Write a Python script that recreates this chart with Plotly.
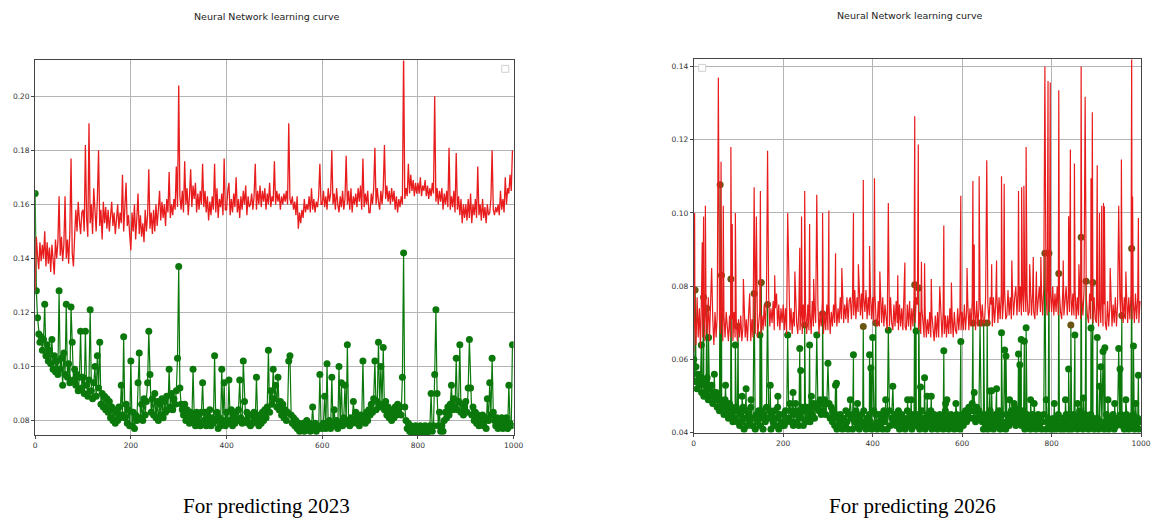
import plotly.graph_objects as go

# ---------------- data ----------------
EPOCHS = [i * 2.5 for i in range(400)]

# Left panel (For predicting 2023) - one row per 50 epochs
LEFT_RED = [
    0.128, 0.148, 0.141, 0.136, 0.146, 0.139, 0.145, 0.140, 0.150, 0.137, 0.146, 0.138, 0.144, 0.135, 0.145, 0.139, 0.134, 0.147, 0.140, 0.146,
    0.163, 0.141, 0.148, 0.139, 0.145, 0.163, 0.140, 0.147, 0.138, 0.150, 0.177, 0.142, 0.137, 0.148, 0.158, 0.150, 0.161, 0.154, 0.149, 0.157,
    0.158, 0.150, 0.182, 0.155, 0.148, 0.190, 0.153, 0.160, 0.149, 0.166, 0.156, 0.150, 0.162, 0.180, 0.152, 0.158, 0.147, 0.161, 0.153, 0.159,
    0.151, 0.158, 0.150, 0.156, 0.161, 0.152, 0.157, 0.149, 0.155, 0.160, 0.151, 0.157, 0.153, 0.171, 0.150, 0.158, 0.168, 0.152, 0.156, 0.149,
    0.143, 0.157, 0.150, 0.160, 0.147, 0.155, 0.164, 0.149, 0.156, 0.148, 0.153, 0.146, 0.158, 0.150, 0.156, 0.173, 0.151, 0.157, 0.149, 0.158,
    0.150, 0.160, 0.152, 0.158, 0.165, 0.154, 0.161, 0.155, 0.160, 0.152, 0.162, 0.157, 0.172, 0.155, 0.160, 0.156, 0.162, 0.158, 0.174, 0.159,
    0.204, 0.163, 0.158, 0.165, 0.157, 0.176, 0.160, 0.166, 0.156, 0.163, 0.173, 0.159, 0.167, 0.162, 0.168, 0.157, 0.164, 0.158, 0.165, 0.160,
    0.175, 0.159, 0.165, 0.157, 0.163, 0.154, 0.161, 0.156, 0.163, 0.158, 0.175, 0.157, 0.166, 0.155, 0.162, 0.159, 0.164, 0.156, 0.177, 0.158,
    0.158, 0.165, 0.168, 0.156, 0.162, 0.157, 0.164, 0.159, 0.170, 0.157, 0.162, 0.155, 0.163, 0.158, 0.165, 0.160, 0.167, 0.156, 0.163, 0.159,
    0.160, 0.164, 0.158, 0.163, 0.175, 0.158, 0.165, 0.160, 0.167, 0.159, 0.165, 0.161, 0.166, 0.158, 0.164, 0.160, 0.168, 0.159, 0.163, 0.161,
    0.176, 0.160, 0.165, 0.161, 0.164, 0.158, 0.163, 0.160, 0.164, 0.161, 0.165, 0.160, 0.190, 0.162, 0.160, 0.163, 0.158, 0.161, 0.156, 0.163,
    0.151, 0.157, 0.153, 0.158, 0.155, 0.162, 0.157, 0.160, 0.158, 0.163, 0.157, 0.166, 0.158, 0.162, 0.157, 0.161, 0.159, 0.163, 0.175, 0.160,
    0.160, 0.165, 0.159, 0.163, 0.158, 0.166, 0.161, 0.164, 0.180, 0.160, 0.164, 0.158, 0.166, 0.160, 0.157, 0.163, 0.159, 0.165, 0.158, 0.162,
    0.178, 0.160, 0.165, 0.158, 0.166, 0.157, 0.163, 0.160, 0.164, 0.159, 0.166, 0.161, 0.167, 0.158, 0.177, 0.159, 0.164, 0.160, 0.165, 0.157,
    0.157, 0.164, 0.160, 0.166, 0.181, 0.160, 0.166, 0.161, 0.158, 0.165, 0.160, 0.166, 0.182, 0.162, 0.167, 0.161, 0.165, 0.160, 0.166, 0.161,
    0.165, 0.158, 0.163, 0.157, 0.162, 0.159, 0.163, 0.160, 0.216, 0.162, 0.166, 0.163, 0.175, 0.164, 0.171, 0.165, 0.169, 0.163, 0.168, 0.164,
    0.168, 0.164, 0.170, 0.163, 0.167, 0.165, 0.169, 0.163, 0.167, 0.162, 0.166, 0.163, 0.168, 0.164, 0.200, 0.161, 0.166, 0.160, 0.165, 0.161,
    0.166, 0.158, 0.164, 0.160, 0.165, 0.159, 0.181, 0.158, 0.163, 0.159, 0.165, 0.157, 0.179, 0.158, 0.163, 0.156, 0.162, 0.153, 0.160, 0.155,
    0.160, 0.154, 0.162, 0.155, 0.164, 0.153, 0.160, 0.156, 0.162, 0.155, 0.174, 0.156, 0.160, 0.154, 0.162, 0.155, 0.159, 0.153, 0.160, 0.156,
    0.157, 0.162, 0.180, 0.158, 0.156, 0.159, 0.157, 0.160, 0.156, 0.165, 0.158, 0.162, 0.157, 0.170, 0.160, 0.166, 0.164, 0.171, 0.165, 0.180,
]
LEFT_GREEN = [
    0.164, 0.128, 0.118, 0.112, 0.109, 0.111, 0.106, 0.110, 0.123, 0.104, 0.108, 0.102, 0.106, 0.101, 0.110, 0.099, 0.104, 0.098, 0.102, 0.097,
    0.128, 0.099, 0.103, 0.093, 0.105, 0.097, 0.123, 0.096, 0.101, 0.094, 0.122, 0.109, 0.095, 0.099, 0.093, 0.097, 0.091, 0.096, 0.113, 0.092,
    0.096, 0.090, 0.113, 0.093, 0.089, 0.095, 0.121, 0.091, 0.088, 0.094, 0.100, 0.089, 0.104, 0.092, 0.109, 0.086, 0.090, 0.085, 0.089, 0.084,
    0.088, 0.083, 0.087, 0.081, 0.085, 0.080, 0.084, 0.079, 0.083, 0.080, 0.085, 0.081, 0.093, 0.082, 0.111, 0.081, 0.086, 0.079, 0.084, 0.078,
    0.102, 0.078, 0.083, 0.077, 0.082, 0.080, 0.094, 0.105, 0.081, 0.086, 0.080, 0.088, 0.082, 0.087, 0.094, 0.113, 0.097, 0.083, 0.088, 0.082,
    0.090, 0.081, 0.087, 0.080, 0.086, 0.082, 0.088, 0.081, 0.087, 0.083, 0.089, 0.084, 0.099, 0.085, 0.090, 0.084, 0.088, 0.086, 0.091, 0.103,
    0.137, 0.092, 0.086, 0.084, 0.082, 0.086, 0.080, 0.084, 0.081, 0.079, 0.083, 0.080, 0.099, 0.081, 0.078, 0.083, 0.079, 0.082, 0.078, 0.083,
    0.094, 0.080, 0.083, 0.078, 0.082, 0.079, 0.084, 0.078, 0.081, 0.079, 0.104, 0.080, 0.083, 0.077, 0.081, 0.078, 0.099, 0.080, 0.094, 0.078,
    0.083, 0.079, 0.095, 0.080, 0.084, 0.078, 0.082, 0.079, 0.083, 0.080, 0.084, 0.095, 0.081, 0.079, 0.102, 0.087, 0.080, 0.083, 0.079, 0.082,
    0.078, 0.082, 0.079, 0.083, 0.080, 0.096, 0.081, 0.078, 0.082, 0.079, 0.083, 0.080, 0.084, 0.081, 0.085, 0.106, 0.083, 0.091, 0.086, 0.099,
    0.088, 0.093, 0.085, 0.096, 0.084, 0.087, 0.082, 0.086, 0.081, 0.084, 0.080, 0.083, 0.102, 0.104, 0.082, 0.079, 0.081, 0.078, 0.080, 0.077,
    0.079, 0.076, 0.078, 0.077, 0.079, 0.076, 0.078, 0.080, 0.077, 0.079, 0.076, 0.078, 0.085, 0.077, 0.079, 0.076, 0.078, 0.077, 0.097, 0.078,
    0.077, 0.079, 0.089, 0.077, 0.101, 0.078, 0.080, 0.077, 0.096, 0.079, 0.084, 0.078, 0.080, 0.077, 0.100, 0.079, 0.094, 0.078, 0.081, 0.093,
    0.079, 0.108, 0.080, 0.078, 0.081, 0.079, 0.087, 0.080, 0.083, 0.079, 0.081, 0.078, 0.082, 0.080, 0.102, 0.081, 0.079, 0.083, 0.080, 0.084,
    0.082, 0.086, 0.083, 0.088, 0.102, 0.084, 0.087, 0.109, 0.085, 0.100, 0.086, 0.107, 0.084, 0.087, 0.082, 0.085, 0.081, 0.084, 0.080, 0.083,
    0.081, 0.085, 0.082, 0.086, 0.083, 0.085, 0.082, 0.096, 0.142, 0.085, 0.080, 0.077, 0.079, 0.076, 0.078, 0.075, 0.077, 0.076, 0.078, 0.075,
    0.077, 0.076, 0.078, 0.075, 0.077, 0.076, 0.078, 0.075, 0.077, 0.076, 0.078, 0.090, 0.076, 0.078, 0.097, 0.121, 0.090, 0.078, 0.083, 0.076,
    0.078, 0.076, 0.080, 0.083, 0.081, 0.085, 0.082, 0.086, 0.093, 0.084, 0.088, 0.085, 0.103, 0.084, 0.087, 0.108, 0.083, 0.086, 0.082, 0.085,
    0.087, 0.083, 0.092, 0.110, 0.092, 0.082, 0.085, 0.080, 0.083, 0.079, 0.082, 0.078, 0.081, 0.079, 0.082, 0.078, 0.081, 0.077, 0.088, 0.080,
    0.094, 0.082, 0.103, 0.083, 0.080, 0.078, 0.081, 0.077, 0.080, 0.078, 0.081, 0.077, 0.080, 0.078, 0.081, 0.077, 0.093, 0.079, 0.078, 0.108,
]

# Right panel (For predicting 2026): baseline on the 2.5-epoch grid + isolated spikes
RIGHT_RED_BASE = [
    0.062, 0.072, 0.064, 0.077, 0.066, 0.074, 0.063, 0.079, 0.066, 0.075, 0.065, 0.073, 0.067, 0.077, 0.065, 0.074, 0.066, 0.071, 0.064, 0.073,
    0.066, 0.072, 0.065, 0.071, 0.067, 0.074, 0.065, 0.072, 0.066, 0.073, 0.068, 0.065, 0.072, 0.066, 0.071, 0.065, 0.073, 0.066, 0.071, 0.065,
    0.071, 0.066, 0.072, 0.065, 0.069, 0.073, 0.066, 0.071, 0.065, 0.072, 0.068, 0.065, 0.071, 0.066, 0.074, 0.067, 0.072, 0.066, 0.070, 0.073,
    0.067, 0.072, 0.068, 0.075, 0.069, 0.076, 0.070, 0.077, 0.069, 0.074, 0.070, 0.076, 0.068, 0.074, 0.078, 0.069, 0.075, 0.068, 0.074, 0.070,
    0.075, 0.068, 0.074, 0.067, 0.072, 0.076, 0.068, 0.074, 0.067, 0.073, 0.069, 0.076, 0.070, 0.067, 0.074, 0.068, 0.073, 0.067, 0.075, 0.069,
    0.073, 0.067, 0.075, 0.068, 0.073, 0.067, 0.076, 0.069, 0.074, 0.070, 0.068, 0.075, 0.067, 0.073, 0.069, 0.076, 0.067, 0.073, 0.068, 0.075,
    0.068, 0.075, 0.067, 0.073, 0.069, 0.075, 0.070, 0.076, 0.069, 0.074, 0.070, 0.077, 0.071, 0.076, 0.070, 0.075, 0.071, 0.077, 0.070, 0.076,
    0.077, 0.071, 0.078, 0.072, 0.079, 0.071, 0.077, 0.073, 0.080, 0.072, 0.078, 0.071, 0.077, 0.073, 0.079, 0.071, 0.077, 0.072, 0.078, 0.071,
    0.077, 0.070, 0.078, 0.071, 0.069, 0.076, 0.069, 0.075, 0.070, 0.077, 0.069, 0.075, 0.071, 0.068, 0.076, 0.069, 0.077, 0.070, 0.068, 0.075,
    0.069, 0.076, 0.070, 0.068, 0.075, 0.069, 0.074, 0.068, 0.076, 0.069, 0.068, 0.075, 0.069, 0.076, 0.068, 0.074, 0.069, 0.077, 0.070, 0.077,
    0.075, 0.068, 0.073, 0.067, 0.074, 0.068, 0.066, 0.072, 0.066, 0.071, 0.067, 0.073, 0.066, 0.072, 0.067, 0.065, 0.072, 0.066, 0.073, 0.066,
    0.067, 0.072, 0.066, 0.073, 0.067, 0.072, 0.066, 0.072, 0.067, 0.074, 0.067, 0.072, 0.066, 0.073, 0.068, 0.067, 0.074, 0.068, 0.073, 0.068,
    0.073, 0.068, 0.075, 0.068, 0.073, 0.076, 0.068, 0.074, 0.069, 0.076, 0.069, 0.074, 0.068, 0.076, 0.069, 0.074, 0.077, 0.069, 0.075, 0.070,
    0.070, 0.077, 0.069, 0.075, 0.070, 0.077, 0.075, 0.069, 0.077, 0.070, 0.075, 0.078, 0.070, 0.077, 0.071, 0.078, 0.071, 0.076, 0.079, 0.071,
    0.072, 0.079, 0.072, 0.077, 0.071, 0.079, 0.072, 0.077, 0.080, 0.072, 0.079, 0.073, 0.080, 0.072, 0.078, 0.073, 0.080, 0.073, 0.078, 0.072,
    0.073, 0.080, 0.072, 0.078, 0.073, 0.071, 0.079, 0.072, 0.077, 0.080, 0.073, 0.078, 0.072, 0.080, 0.073, 0.078, 0.072, 0.080, 0.073, 0.078,
    0.073, 0.080, 0.072, 0.078, 0.073, 0.080, 0.072, 0.078, 0.073, 0.071, 0.079, 0.072, 0.077, 0.080, 0.072, 0.078, 0.073, 0.080, 0.072, 0.078,
    0.072, 0.079, 0.071, 0.077, 0.072, 0.079, 0.071, 0.077, 0.072, 0.079, 0.071, 0.077, 0.072, 0.070, 0.078, 0.071, 0.076, 0.070, 0.077, 0.071,
    0.070, 0.076, 0.069, 0.075, 0.070, 0.077, 0.069, 0.075, 0.070, 0.068, 0.076, 0.069, 0.074, 0.077, 0.069, 0.075, 0.070, 0.077, 0.069, 0.075,
    0.070, 0.077, 0.071, 0.078, 0.070, 0.077, 0.071, 0.078, 0.070, 0.077, 0.071, 0.078, 0.071, 0.076, 0.070, 0.078, 0.071, 0.077, 0.070, 0.076,
]
RIGHT_RED_SPIKE_X = [
    2, 19, 22, 26, 40, 55, 61, 66, 83, 86, 93, 111, 125, 135, 140, 149, 165,
    181, 210, 226, 237, 241, 248, 259, 268, 275, 288, 302, 317, 331, 357,
    368, 379, 393, 404, 416, 435, 456, 472, 494, 502, 509, 516, 531, 550,
    559, 576, 597, 611, 624, 627, 638, 655, 666, 677, 688, 694, 711, 726,
    733, 738, 743, 751, 759, 766, 776, 785, 792, 797, 816, 826, 838, 842,
    851, 861, 866, 875, 888, 891, 902, 907, 912, 916, 918, 931, 950, 956,
    966, 979, 981, 994,
]
RIGHT_RED_SPIKE_Y = [
    0.100, 0.092, 0.099, 0.102, 0.085, 0.137, 0.114, 0.102, 0.118, 0.097, 0.100, 0.082, 0.078, 0.107, 0.099, 0.106, 0.117,
    0.083, 0.100, 0.084, 0.0905, 0.099, 0.106, 0.097, 0.082, 0.105, 0.100, 0.1007, 0.089, 0.085, 0.100,
    0.086, 0.109, 0.091, 0.1095, 0.084, 0.1027, 0.083, 0.0865, 0.1264, 0.1187, 0.0867, 0.0863, 0.082, 0.080,
    0.0966, 0.081, 0.1047, 0.085, 0.1087, 0.0914, 0.110, 0.1144, 0.086, 0.087, 0.110, 0.108, 0.087, 0.106,
    0.107, 0.1074, 0.118, 0.086, 0.088, 0.084, 0.088, 0.140, 0.136, 0.1356, 0.1335, 0.087, 0.0991, 0.1173,
    0.1135, 0.086, 0.140, 0.1317, 0.1095, 0.1275, 0.113, 0.100, 0.102, 0.1027, 0.1018, 0.085, 0.102, 0.1146,
    0.084, 0.143, 0.1045, 0.0986,
]
RIGHT_GREEN_BASE = [
    0.060, 0.054, 0.058, 0.052, 0.056, 0.053, 0.055, 0.051, 0.054, 0.050, 0.053, 0.051, 0.055, 0.049, 0.052, 0.050, 0.053, 0.048, 0.051, 0.049,
    0.051, 0.047, 0.050, 0.046, 0.049, 0.047, 0.048, 0.045, 0.049, 0.046, 0.047, 0.044, 0.048, 0.045, 0.047, 0.043, 0.046, 0.044, 0.047, 0.043,
    0.046, 0.042, 0.045, 0.043, 0.047, 0.041, 0.044, 0.046, 0.042, 0.045, 0.043, 0.047, 0.042, 0.044, 0.046, 0.041, 0.045, 0.043, 0.046, 0.042,
    0.044, 0.046, 0.041, 0.045, 0.043, 0.047, 0.042, 0.044, 0.046, 0.041, 0.045, 0.043, 0.046, 0.042, 0.044, 0.047, 0.041, 0.045, 0.043, 0.042,
    0.045, 0.042, 0.046, 0.043, 0.047, 0.044, 0.048, 0.043, 0.046, 0.042, 0.045, 0.048, 0.043, 0.046, 0.042, 0.045, 0.044, 0.047, 0.042, 0.046,
    0.043, 0.047, 0.044, 0.046, 0.043, 0.047, 0.045, 0.048, 0.044, 0.047, 0.045, 0.048, 0.046, 0.049, 0.045, 0.048, 0.046, 0.049, 0.045, 0.048,
    0.046, 0.048, 0.044, 0.047, 0.043, 0.046, 0.042, 0.045, 0.041, 0.044, 0.042, 0.045, 0.043, 0.041, 0.044, 0.042, 0.046, 0.043, 0.041, 0.045,
    0.042, 0.044, 0.041, 0.045, 0.043, 0.046, 0.042, 0.044, 0.041, 0.043, 0.045, 0.042, 0.046, 0.043, 0.041, 0.044, 0.042, 0.045, 0.043, 0.041,
    0.044, 0.046, 0.042, 0.045, 0.041, 0.043, 0.045, 0.042, 0.044, 0.041, 0.046, 0.043, 0.045, 0.041, 0.043, 0.046, 0.042, 0.044, 0.041, 0.043,
    0.045, 0.042, 0.044, 0.046, 0.041, 0.043, 0.045, 0.042, 0.044, 0.041, 0.043, 0.046, 0.042, 0.044, 0.045, 0.041, 0.043, 0.045, 0.042, 0.044,
    0.042, 0.045, 0.041, 0.043, 0.046, 0.042, 0.044, 0.041, 0.043, 0.045, 0.042, 0.044, 0.046, 0.041, 0.043, 0.045, 0.042, 0.044, 0.041, 0.043,
    0.045, 0.042, 0.044, 0.041, 0.043, 0.046, 0.042, 0.044, 0.041, 0.043, 0.045, 0.042, 0.044, 0.041, 0.043, 0.045, 0.042, 0.044, 0.041, 0.043,
    0.045, 0.042, 0.044, 0.046, 0.043, 0.045, 0.047, 0.044, 0.046, 0.048, 0.044, 0.046, 0.043, 0.047, 0.044, 0.046, 0.042, 0.045, 0.043, 0.041,
    0.044, 0.042, 0.045, 0.041, 0.043, 0.046, 0.042, 0.044, 0.041, 0.043, 0.045, 0.042, 0.044, 0.046, 0.041, 0.043, 0.045, 0.042, 0.044, 0.041,
    0.043, 0.045, 0.042, 0.044, 0.046, 0.043, 0.045, 0.047, 0.042, 0.044, 0.046, 0.043, 0.045, 0.042, 0.044, 0.046, 0.041, 0.043, 0.045, 0.042,
    0.044, 0.041, 0.043, 0.045, 0.042, 0.044, 0.041, 0.043, 0.045, 0.042, 0.044, 0.041, 0.043, 0.045, 0.042, 0.041, 0.043, 0.044, 0.042, 0.041,
    0.043, 0.041, 0.044, 0.042, 0.041, 0.043, 0.045, 0.042, 0.041, 0.044, 0.042, 0.041, 0.043, 0.045, 0.042, 0.041, 0.044, 0.042, 0.041, 0.043,
    0.045, 0.042, 0.044, 0.041, 0.043, 0.046, 0.042, 0.044, 0.041, 0.043, 0.045, 0.042, 0.044, 0.041, 0.043, 0.045, 0.042, 0.044, 0.041, 0.043,
    0.042, 0.044, 0.041, 0.043, 0.045, 0.042, 0.044, 0.041, 0.043, 0.045, 0.042, 0.041, 0.044, 0.042, 0.043, 0.045, 0.041, 0.043, 0.042, 0.044,
    0.041, 0.043, 0.045, 0.042, 0.044, 0.041, 0.043, 0.045, 0.042, 0.041, 0.044, 0.042, 0.043, 0.045, 0.041, 0.043, 0.042, 0.044, 0.041, 0.043,
]
RIGHT_GREEN_SPIKE_X = [
    3, 17, 22, 29, 33, 46, 59, 62, 71, 83, 93, 99, 108, 117, 128, 135, 148,
    151, 165, 171, 188, 210, 222, 237, 239, 248, 259, 263, 275, 288, 300,
    317, 319, 350, 357, 366, 379, 393, 396, 400, 407, 429, 435, 445, 478,
    486, 494, 497, 503, 507, 516, 522, 531, 559, 563, 566, 586, 597, 624,
    627, 640, 648, 656, 662, 666, 677, 688, 695, 698, 706, 716, 726, 729,
    732, 739, 743, 753, 761, 785, 788, 794, 806, 816, 831, 838, 843, 852,
    858, 866, 871, 877, 888, 892, 902, 907, 910, 915, 919, 926, 941, 950,
    953, 957, 966, 979, 983, 988, 994,
]
RIGHT_GREEN_SPIKE_Y = [
    0.079, 0.064, 0.077, 0.074, 0.066, 0.056, 0.1077, 0.083, 0.053, 0.082, 0.064, 0.069, 0.050, 0.052, 0.049, 0.078, 0.0667,
    0.081, 0.075, 0.053, 0.050, 0.0667, 0.051, 0.063, 0.057, 0.0694, 0.064, 0.050, 0.0667, 0.0725, 0.059,
    0.053, 0.0535, 0.049, 0.0613, 0.048, 0.069, 0.0613, 0.0577, 0.066, 0.070, 0.049, 0.068, 0.0527, 0.049,
    0.049, 0.0804, 0.0678, 0.0795, 0.0525, 0.055, 0.050, 0.050, 0.0624, 0.048, 0.049, 0.048, 0.0649, 0.070,
    0.051, 0.070, 0.070, 0.070, 0.0514, 0.0515, 0.052, 0.0673, 0.0626, 0.061, 0.049, 0.048, 0.0615, 0.0586,
    0.0655, 0.065, 0.0687, 0.049, 0.048, 0.089, 0.049, 0.089, 0.048, 0.0835, 0.049, 0.0574, 0.0694, 0.0667,
    0.048, 0.0934, 0.0495, 0.0814, 0.0686, 0.081, 0.066, 0.0527, 0.058, 0.0622, 0.0632, 0.049, 0.048, 0.063,
    0.0574, 0.072, 0.049, 0.0903, 0.0637, 0.048, 0.0557,
]

X_TICKS = [0, 200, 400, 600, 800, 1000]
LEFT_Y_TICKS = [0.08, 0.10, 0.12, 0.14, 0.16, 0.18, 0.20]
RIGHT_Y_TICKS = [0.04, 0.06, 0.08, 0.10, 0.12, 0.14]
TITLE = "Neural Network learning curve"
CAPTIONS = ["For predicting 2023", "For predicting 2026"]


def merge(bx, by, sx, sy):
    d = dict(zip(bx, by))
    d.update(zip(sx, sy))
    keys = sorted(d)
    return keys, [d[k] for k in keys]


rr_x, rr_y = merge(EPOCHS, RIGHT_RED_BASE, RIGHT_RED_SPIKE_X, RIGHT_RED_SPIKE_Y)
rg_x, rg_y = merge(EPOCHS, RIGHT_GREEN_BASE, RIGHT_GREEN_SPIKE_X, RIGHT_GREEN_SPIKE_Y)

GREEN = "#0b780b"
RED = "#e81c1c"
BROWN = "#6a5514"

# green markers lying inside the red band look brownish (overlap)
RED_BAND_FLOOR = 0.069
rg_colors = [BROWN if y >= RED_BAND_FLOOR else GREEN for y in rg_y]

W, H = 1158, 524


def fx(px):
    return px / W


def fy(py):
    return 1 - py / H


fig = go.Figure()

# left panel
fig.add_trace(go.Scatter(x=EPOCHS, y=LEFT_GREEN, mode="lines+markers",
                         line=dict(color=GREEN, width=1.2),
                         marker=dict(color=GREEN, size=7),
                         xaxis="x", yaxis="y", showlegend=False))
fig.add_trace(go.Scatter(x=EPOCHS, y=LEFT_RED, mode="lines",
                         line=dict(color=RED, width=1.3),
                         xaxis="x", yaxis="y", showlegend=False))
# right panel
fig.add_trace(go.Scatter(x=rg_x, y=rg_y, mode="lines+markers",
                         line=dict(color=GREEN, width=1.2),
                         marker=dict(color=rg_colors, size=7),
                         xaxis="x2", yaxis="y2", showlegend=False))
fig.add_trace(go.Scatter(x=rr_x, y=rr_y, mode="lines",
                         line=dict(color=RED, width=1.2),
                         xaxis="x2", yaxis="y2", showlegend=False))

axis_common = dict(showgrid=True, gridcolor="#b4b4b4", gridwidth=0.8,
                   showline=True, linecolor="#444", linewidth=1, mirror=True,
                   ticks="outside", ticklen=3, tickcolor="#444",
                   tickfont=dict(family="DejaVu Sans", size=7.5, color="#333"),
                   zeroline=False)

fig.update_layout(
    width=W, height=H, margin=dict(l=0, r=0, t=0, b=0),
    paper_bgcolor="white", plot_bgcolor="white",
    xaxis=dict(domain=[fx(33.5), fx(517)], range=[0, 1000], tickvals=X_TICKS,
               anchor="y", **axis_common),
    yaxis=dict(domain=[fy(439.5), fy(61)], range=[0.0745, 0.2133],
               tickvals=LEFT_Y_TICKS, tickformat=".2f", anchor="x", **axis_common),
    xaxis2=dict(domain=[fx(699), fx(1151)], range=[0, 1000], tickvals=X_TICKS,
                anchor="y2", **axis_common),
    yaxis2=dict(domain=[fy(437), fy(60)], range=[0.04, 0.1419],
                tickvals=RIGHT_Y_TICKS, tickformat=".2f", anchor="x2", **axis_common),
)

annotations = []
for cx, cy in [(268, 17), (918, 16)]:
    annotations.append(dict(text=TITLE, x=fx(cx), y=fy(cy), xref="paper", yref="paper",
                            xanchor="center", yanchor="middle", showarrow=False,
                            font=dict(family="DejaVu Sans", size=9.5, color="#222")))
for cap, cx in zip(CAPTIONS, [267, 920]):
    annotations.append(dict(text=cap, x=fx(cx), y=fy(511), xref="paper", yref="paper",
                            xanchor="center", yanchor="middle", showarrow=False,
                            font=dict(family="Liberation Serif", size=21, color="black")))
fig.update_layout(annotations=annotations)

# empty legend frames
shapes = []
for x0, y0 in [(505, 66), (704, 65)]:
    shapes.append(dict(type="rect", xref="paper", yref="paper",
                       x0=fx(x0), x1=fx(x0 + 7), y0=fy(y0 + 7), y1=fy(y0),
                       line=dict(color="#d0d0d0", width=1), fillcolor="white"))
fig.update_layout(shapes=shapes)

fig.write_html("out.html")
